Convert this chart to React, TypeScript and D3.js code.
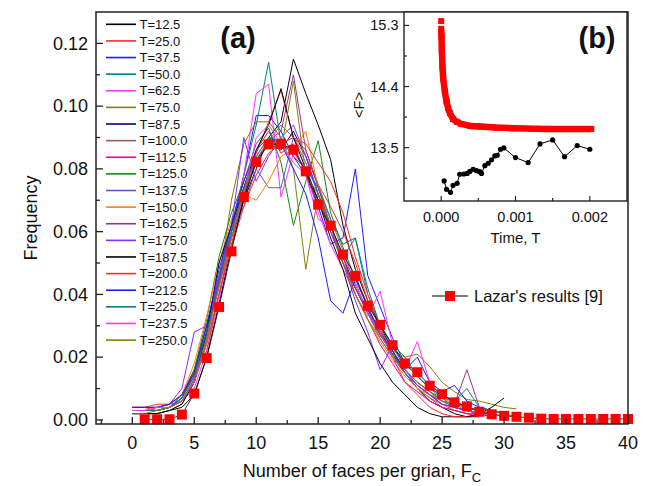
import React from "react";
import * as d3 from "d3";

const W = 651, H = 486;
const FONT = "'Liberation Sans', Arial, sans-serif";

const seriesLabels = ["T=12.5","T=25.0","T=37.5","T=50.0","T=62.5","T=75.0","T=87.5","T=100.0","T=112.5","T=125.0","T=137.5","T=150.0","T=162.5","T=175.0","T=187.5","T=200.0","T=212.5","T=225.0","T=237.5","T=250.0"];
const seriesColors = ["#000000","#ff2a2a","#1a1aff","#008080","#ff33ff","#808000","#000080","#a05a5a","#ff0080","#108a10","#5c5cc8","#ff8000","#993399","#8a2aff","#000000","#ff2a2a","#1a1aff","#008080","#ff33ff","#808000"];

const s125 = [0.002,0.002,0.002,0.003,0.004,0.008,0.020,0.037,0.055,0.070,0.080,0.090,0.095,0.115,0.104,0.094,0.083,0.062,0.048,0.038,0.030,0.022,0.015,0.010,0.006,0.004,0.002,0.001,0.001];
const s250 = [0.004,0.004,0.003,0.004,0.006,0.012,0.025,0.040,0.056,0.072,0.085,0.095,0.105,0.090,0.086,0.075,0.068,0.060,0.050,0.038,0.029,0.020,0.015,0.010,0.007,0.004,0.003,0.002,0.002,0.001];
const s375 = [0.003,0.003,0.003,0.004,0.007,0.015,0.030,0.046,0.062,0.078,0.097,0.097,0.092,0.084,0.078,0.068,0.056,0.058,0.080,0.046,0.036,0.026,0.018,0.014,0.010,0.008,0.006,0.004,0.003,0.002];
const s500 = [0.003,0.003,0.003,0.004,0.008,0.016,0.028,0.045,0.060,0.078,0.094,0.114,0.088,0.086,0.080,0.070,0.062,0.052,0.058,0.040,0.030,0.024,0.020,0.014,0.010,0.007,0.004,0.003,0.002,0.001];
const s625 = [0.003,0.003,0.004,0.005,0.006,0.010,0.022,0.038,0.060,0.078,0.104,0.107,0.071,0.085,0.080,0.066,0.056,0.048,0.040,0.033,0.041,0.024,0.016,0.011,0.008,0.006,0.004,0.003,0.002];
const s750 = [0.002,0.002,0.002,0.003,0.005,0.012,0.026,0.044,0.070,0.088,0.095,0.095,0.090,0.080,0.048,0.072,0.060,0.050,0.042,0.034,0.027,0.022,0.020,0.021,0.017,0.012,0.009,0.0065,0.006,0.005,0.004,0.0035];
const s875 = [0.003,0.003,0.003,0.004,0.006,0.013,0.027,0.043,0.058,0.070,0.083,0.088,0.086,0.092,0.084,0.072,0.062,0.052,0.042,0.034,0.028,0.021,0.015,0.011,0.008,0.005,0.004,0.003,0.002,0.002];
const s1000 = [0.003,0.003,0.003,0.004,0.006,0.012,0.024,0.040,0.058,0.071,0.082,0.089,0.094,0.090,0.084,0.075,0.064,0.054,0.043,0.035,0.028,0.020,0.015,0.010,0.007,0.005,0.003,0.002,0.002];
const s1125 = [0.004,0.004,0.004,0.005,0.008,0.016,0.030,0.045,0.060,0.074,0.086,0.092,0.085,0.088,0.078,0.070,0.060,0.052,0.040,0.032,0.024,0.018,0.012,0.009,0.006,0.004,0.003,0.002,0.001];
const s1250 = [0.003,0.003,0.003,0.004,0.007,0.016,0.032,0.052,0.066,0.076,0.088,0.093,0.082,0.062,0.076,0.089,0.066,0.055,0.045,0.036,0.027,0.021,0.016,0.012,0.009,0.007,0.006,0.004,0.003,0.002];
const s1375 = [0.003,0.003,0.003,0.004,0.007,0.014,0.027,0.044,0.060,0.068,0.080,0.074,0.074,0.090,0.082,0.072,0.062,0.050,0.042,0.034,0.026,0.020,0.015,0.011,0.008,0.006,0.004,0.003,0.002,0.001];
const s1500 = [0.003,0.003,0.004,0.005,0.008,0.018,0.033,0.050,0.064,0.072,0.070,0.076,0.084,0.086,0.092,0.074,0.062,0.050,0.040,0.032,0.025,0.019,0.014,0.010,0.008,0.007,0.005,0.004,0.003,0.002];
const s1625 = [0.003,0.003,0.003,0.004,0.007,0.014,0.028,0.045,0.060,0.072,0.083,0.089,0.092,0.110,0.086,0.074,0.062,0.050,0.042,0.035,0.027,0.022,0.016,0.012,0.009,0.006,0.005,0.016,0.004,0.003,0.002];
const s1750 = [0.004,0.004,0.004,0.005,0.010,0.028,0.030,0.046,0.062,0.090,0.076,0.084,0.090,0.094,0.084,0.072,0.060,0.050,0.038,0.028,0.016,0.024,0.016,0.011,0.008,0.005,0.004,0.003,0.002,0.001];
const s1875 = [0.002,0.002,0.002,0.003,0.005,0.012,0.028,0.050,0.062,0.074,0.086,0.094,0.1056,0.090,0.080,0.070,0.058,0.048,0.034,0.026,0.018,0.012,0.008,0.004,0.002,0.001,0.001,0.001,0.002,0.004,0.007];
const s2000 = [0.004,0.004,0.005,0.005,0.008,0.015,0.022,0.040,0.055,0.068,0.078,0.085,0.088,0.090,0.088,0.082,0.076,0.066,0.052,0.040,0.030,0.020,0.012,0.008,0.004,0.002,0.001,0.001];
const s2125 = [0.004,0.004,0.004,0.005,0.008,0.015,0.030,0.048,0.062,0.076,0.086,0.090,0.088,0.080,0.072,0.058,0.038,0.034,0.045,0.036,0.028,0.022,0.016,0.020,0.012,0.009,0.011,0.006,0.004,0.003,0.002];
const s2250 = [0.003,0.003,0.003,0.004,0.007,0.014,0.028,0.044,0.060,0.074,0.084,0.090,0.089,0.084,0.080,0.074,0.064,0.056,0.058,0.042,0.030,0.023,0.018,0.014,0.010,0.008,0.006,0.010,0.004,0.003,0.002,0.001];
const s2375 = [0.003,0.003,0.004,0.004,0.006,0.012,0.026,0.042,0.058,0.072,0.090,0.094,0.088,0.082,0.078,0.064,0.062,0.052,0.044,0.034,0.028,0.020,0.016,0.025,0.012,0.008,0.005,0.003,0.002,0.002,0.001];
const s2500 = [0.002,0.002,0.003,0.004,0.006,0.013,0.026,0.043,0.058,0.073,0.084,0.090,0.086,0.108,0.078,0.072,0.062,0.050,0.040,0.032,0.026,0.020,0.016,0.012,0.009,0.006,0.005,0.004,0.003,0.002];
const seriesValues = [s125,s250,s375,s500,s625,s750,s875,s1000,s1125,s1250,s1375,s1500,s1625,s1750,s1875,s2000,s2125,s2250,s2375,s2500];

const lazarX = [1,2,3,4,5,6,7,8,9,10,11,12,13,14,15,16,17,18,19,20,21,22,23,24,25,26,27,28,29,30,31,32,33,34,35,36,37,38,39,40];
const lazarY = [0.0002,0.0002,0.0002,0.0017,0.0084,0.0197,0.036,0.0537,0.071,0.0822,0.0878,0.088,0.0861,0.0792,0.0686,0.0619,0.0527,0.0459,0.0364,0.0303,0.0238,0.018,0.0152,0.0109,0.0082,0.0056,0.0043,0.0026,0.0018,0.0013,0.001,0.0007,0.0004,0.0003,0.0003,0.0003,0.0003,0.0003,0.0003,0.0003];

const xMajor = [0,5,10,15,20,25,30,35,40];
const xMinor = [-2.5,2.5,7.5,12.5,17.5,22.5,27.5,32.5,37.5];
const yMajor = [0,0.02,0.04,0.06,0.08,0.10,0.12];
const yMinor = [0.01,0.03,0.05,0.07,0.09,0.11];

// inset (b)
const redT = [0,0,0.0000045,0.000009,0.000018,0.000027,0.000049,0.000072,0.000094,0.000117,0.00016,0.00021,0.00027,0.00039,0.00052,0.00074,0.00097,0.00142,0.00202];
const redF = [15.364,15.25,15.14,14.94,14.69,14.52,14.33,14.18,14.08,14.01,13.92,13.88,13.85,13.82,13.81,13.795,13.786,13.776,13.776];
const blackT = [0.00004,0.000072,0.000126,0.00016,0.000215,0.00025,0.000305,0.00035,0.000386,0.00043,0.000476,0.00052,0.000543,0.000588,0.000633,0.000677,0.000722,0.000754,0.000799,0.000843,0.001,0.00117,0.00133,0.0015,0.00166,0.00183,0.002];
const blackF = [13.009,12.886,12.842,12.945,12.975,13.108,13.112,13.12,13.15,13.18,13.16,13.146,13.12,13.235,13.27,13.32,13.378,13.388,13.476,13.496,13.353,13.28,13.555,13.614,13.367,13.53,13.476];
const insetXTicks = [0, 0.001, 0.002];
const insetXTickLabels = ["0.000", "0.001", "0.002"];
const insetXMinor = [0.0005, 0.0015];
const insetYTicks = [13.5, 14.4, 15.3];
const insetYMinor = [13.05, 13.95, 14.85];

export default function App() {
  const L = 96, R = 628, T = 12, B = 424;
  const x = d3.scaleLinear().domain([-2.93, 40]).range([L, R]);
  const y = d3.scaleLinear().domain([-0.0013, 0.13]).range([B, T]);
  const line = d3.line<[number, number]>().x(d => x(d[0])).y(d => y(d[1]));

  const iL = 404, iR = 627, iT = 12, iB = 201;
  const ix = d3.scaleLinear().domain([-0.0005, 0.0025]).range([iL, iR]);
  const iy = d3.scaleLinear().domain([12.714, 15.498]).range([iB, iT]);
  const iline = d3.line<[number, number]>().x(d => ix(d[0])).y(d => iy(d[1]));

  const axisColor = "#222";
  const lazarPts: [number, number][] = lazarX.map((v, i) => [v, lazarY[i]]);
  const redPts: [number, number][] = redT.map((v, i) => [v, redF[i]]);
  const blackPts: [number, number][] = blackT.map((v, i) => [v, blackF[i]]);

  return (
    <svg width={W} height={H} style={{ position: "absolute", left: 0, top: 0, background: "#fff" }} fontFamily={FONT}>
      <rect x={0} y={0} width={W} height={H} fill="#fff" />
      {/* series lines */}
      <g fill="none" strokeWidth={1}>
        {seriesValues.map((vals, si) => (
          <path key={si} d={line(vals.map((v, i) => [i, v] as [number, number])) || ""} stroke={seriesColors[si]} />
        ))}
      </g>
      {/* Lazar */}
      <path d={line(lazarPts) || ""} fill="none" stroke="#000" strokeWidth={0.8} />
      {lazarPts.map((p, i) => (
        <rect key={i} x={x(p[0]) - 5} y={y(p[1]) - 5} width={10} height={10} fill="#ff0000" />
      ))}

      {/* main frame */}
      <rect x={L} y={T} width={R - L} height={B - T} fill="none" stroke={axisColor} strokeWidth={1.5} />
      {xMajor.map(v => <line key={"xm" + v} x1={x(v)} x2={x(v)} y1={B} y2={B - 7} stroke={axisColor} strokeWidth={1.3} />)}
      {xMinor.map(v => <line key={"xn" + v} x1={x(v)} x2={x(v)} y1={B} y2={B - 4} stroke={axisColor} strokeWidth={1.3} />)}
      {yMajor.map(v => <line key={"ym" + v} x1={L} x2={L + 7} y1={y(v)} y2={y(v)} stroke={axisColor} strokeWidth={1.3} />)}
      {yMinor.map(v => <line key={"yn" + v} x1={L} x2={L + 4} y1={y(v)} y2={y(v)} stroke={axisColor} strokeWidth={1.3} />)}
      {xMajor.map(v => (
        <text key={"xl" + v} x={x(v)} y={449} textAnchor="middle" fontSize={18} fill="#111">{v}</text>
      ))}
      {yMajor.map(v => (
        <text key={"yl" + v} x={88} y={y(v) + 6.3} textAnchor="end" fontSize={18} fill="#111">{v.toFixed(2)}</text>
      ))}
      <text transform={`translate(37,${(T + B) / 2}) rotate(-90)`} textAnchor="middle" fontSize={18} fill="#111">Frequency</text>
      <text x={(L + R) / 2} y={477} textAnchor="middle" fontSize={18} fill="#111">
        Number of faces per grian, F<tspan fontSize={13} dy={5}>C</tspan>
      </text>

      {/* legend */}
      {seriesLabels.map((lab, i) => {
        const ly = 24.3 + i * 16.62;
        return (
          <g key={lab}>
            <line x1={106} x2={136} y1={ly} y2={ly} stroke={seriesColors[i]} strokeWidth={1.6} />
            <text x={139.5} y={ly + 4.6} fontSize={13} fill="#111">{lab}</text>
          </g>
        );
      })}
      <text x={238} y={48} textAnchor="middle" fontSize={29} fontWeight="bold" fill="#111">(a)</text>

      {/* Lazar legend */}
      <line x1={432} x2={468} y1={296} y2={296} stroke="#000" strokeWidth={1.2} />
      <rect x={445} y={291} width={10} height={10} fill="#ff0000" />
      <text x={474} y={301.5} fontSize={16.5} fill="#111">Lazar's results [9]</text>

      {/* inset */}
      <rect x={iL} y={iT} width={iR - iL} height={iB - iT} fill="#fff" stroke={axisColor} strokeWidth={1.4} />
      <path d={iline(redPts.slice(1)) || ""} fill="none" stroke="#ff0000" strokeWidth={6.5} strokeLinejoin="round" />
      {redPts.map((p, i) => (
        <rect key={i} x={ix(p[0]) - 3} y={iy(p[1]) - 3} width={6} height={6} fill="#ff0000" />
      ))}
      <path d={iline(blackPts) || ""} fill="none" stroke="#000" strokeWidth={1} />
      {blackPts.map((p, i) => (
        <circle key={i} cx={ix(p[0])} cy={iy(p[1])} r={2.6} fill="#000" />
      ))}
      {insetXTicks.map(v => <line key={"ixt" + v} x1={ix(v)} x2={ix(v)} y1={iB} y2={iB - 5} stroke={axisColor} strokeWidth={1.2} />)}
      {insetXMinor.map(v => <line key={"ixn" + v} x1={ix(v)} x2={ix(v)} y1={iB} y2={iB - 3} stroke={axisColor} strokeWidth={1.2} />)}
      {insetYTicks.map(v => <line key={"iyt" + v} x1={iL} x2={iL + 5} y1={iy(v)} y2={iy(v)} stroke={axisColor} strokeWidth={1.2} />)}
      {insetYMinor.map(v => <line key={"iyn" + v} x1={iL} x2={iL + 3} y1={iy(v)} y2={iy(v)} stroke={axisColor} strokeWidth={1.2} />)}
      {insetXTicks.map((v, i) => (
        <text key={"ixl" + v} x={ix(v)} y={222} textAnchor="middle" fontSize={14.5} fill="#111">{insetXTickLabels[i]}</text>
      ))}
      {insetYTicks.map(v => (
        <text key={"iyl" + v} x={398.5} y={iy(v) + 5} textAnchor="end" fontSize={14.5} fill="#111">{v.toFixed(1)}</text>
      ))}
      <text transform={`translate(364,${105}) rotate(-90)`} textAnchor="middle" fontSize={14.5} fill="#111">&lt;F&gt;</text>
      <text x={(iL + iR) / 2} y={243} textAnchor="middle" fontSize={15} fill="#111">Time, T</text>
      <text x={597} y={48} textAnchor="middle" fontSize={29} fontWeight="bold" fill="#111">(b)</text>
    </svg>
  );
}
